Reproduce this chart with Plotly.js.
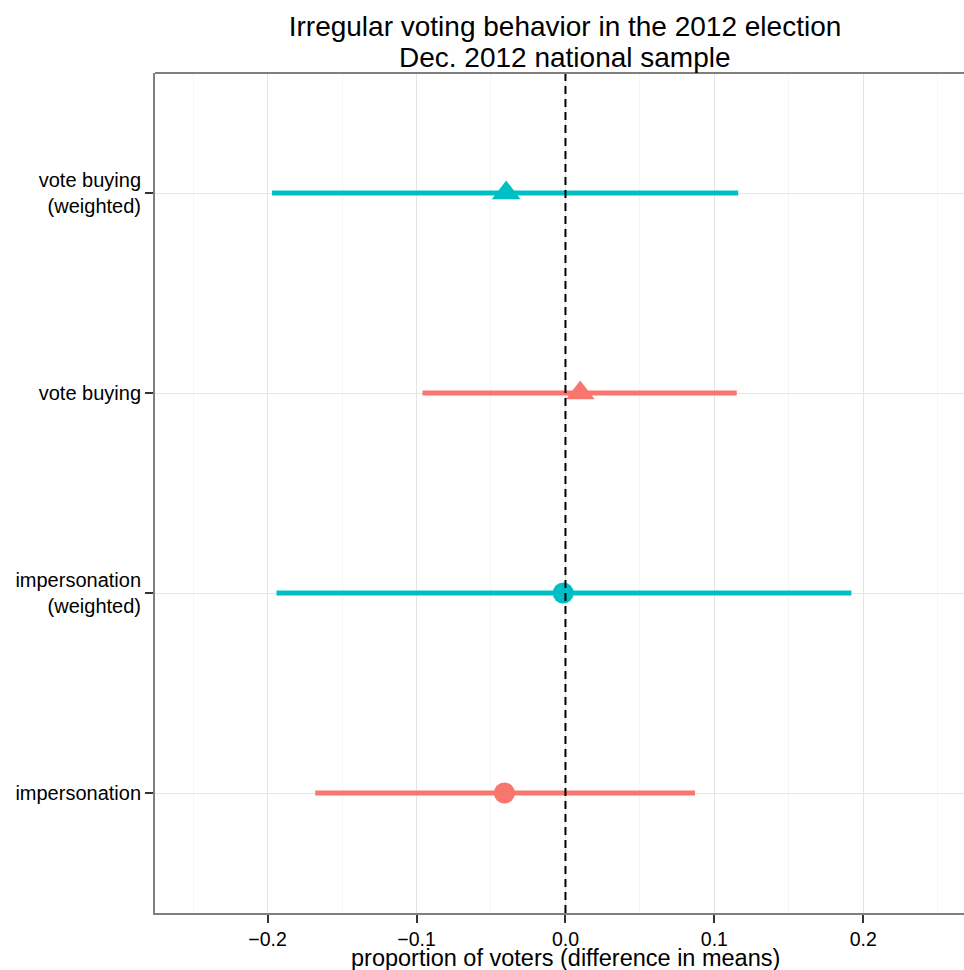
<!DOCTYPE html>
<html>
<head>
<meta charset="utf-8">
<script src="https://cdn.plot.ly/plotly-3.0.1.min.js"></script>
<style>html,body{margin:0;padding:0;background:#fff;}#chart{width:964px;height:970px;}</style>
</head>
<body>
<div id="chart"></div>
<script>
const categories = ['impersonation', 'impersonation<br>(weighted)', 'vote buying', 'vote buying<br>(weighted)'];
const estimates = [-0.041, -0.0015, 0.0099, -0.0398];
const lower = [-0.168, -0.194, -0.096, -0.197];
const upper = [0.087, 0.192, 0.115, 0.116];
const weighted = [false, true, false, true];
const symbols = ['circle', 'circle', 'triangle-up', 'triangle-up'];
const xTickVals = [-0.2, -0.1, 0.0, 0.1, 0.2];
const xTickText = ['\u22120.2', '\u22120.1', '0.0', '0.1', '0.2'];
const titleLine1 = 'Irregular voting behavior in the 2012 election';
const titleLine2 = 'Dec. 2012 national sample';
const xTitle = 'proportion of voters (difference in means)';

const COL_W = '#00BFC4', COL_U = '#F8766D';
const traces = [];
categories.forEach((c, i) => {
  const col = weighted[i] ? COL_W : COL_U;
  traces.push({x: [lower[i], upper[i]], y: [c, c], type: 'scatter', mode: 'lines',
    line: {color: col, width: 5}, hoverinfo: 'skip', showlegend: false});
});
categories.forEach((c, i) => {
  const col = weighted[i] ? COL_W : COL_U;
  traces.push({x: [estimates[i]], y: [c], type: 'scatter', mode: 'markers',
    marker: {color: col, symbol: symbols[i], size: symbols[i] === 'circle' ? 21 : 25, line: {width: 0}},
    showlegend: false});
});

const FONT = 'Liberation Sans, Arial, Helvetica, sans-serif';
const TX = (565 - 155) / 809;
const layout = {
  width: 964, height: 970,
  margin: {l: 155, r: 0, t: 73, b: 57},
  paper_bgcolor: '#fff', plot_bgcolor: '#fff',
  font: {family: FONT, color: '#000'},
  title: {text: titleLine1,
    font: {size: 28, color: '#000', family: FONT},
    xref: 'container', x: 565/964, xanchor: 'center',
    yref: 'container', y: 1 - 16/970, yanchor: 'top'},
  xaxis: {range: [-0.2756, 0.2676], tickvals: xTickVals, ticktext: xTickText,
    showgrid: true, gridcolor: '#E5E5E5', gridwidth: 1,
    minor: {dtick: 0.05, tick0: 0, showgrid: true, gridcolor: '#F5F5F5', gridwidth: 1, ticks: ''},
    zeroline: false, showline: true, linecolor: '#7F7F7F', linewidth: 2,
    ticks: 'outside', ticklen: 8, tickwidth: 2, tickcolor: '#333',
    tickfont: {size: 19.5, color: '#000'}, fixedrange: true},
  yaxis: {type: 'category', categoryarray: categories, range: [-0.6, 3.6],
    showgrid: true, gridcolor: '#E5E5E5', gridwidth: 1, zeroline: false,
    showline: true, linecolor: '#7F7F7F', linewidth: 2,
    ticks: 'outside', ticklen: 8, tickwidth: 2, tickcolor: '#333',
    tickfont: {size: 20, color: '#000'}, fixedrange: true},
  shapes: [
    {type: 'line', xref: 'x', yref: 'paper', x0: 0, x1: 0, y0: 0, y1: 1,
      line: {color: '#000', width: 2, dash: '8px,5px'}},
    {type: 'line', xref: 'paper', yref: 'paper', x0: 0, x1: 1, y0: 1, y1: 1,
      line: {color: '#7F7F7F', width: 2}}
  ],
  annotations: [
    {text: titleLine2, xref: 'paper', yref: 'paper', x: TX, y: 1,
      xanchor: 'center', yanchor: 'bottom', yshift: -2,
      showarrow: false, font: {size: 28, color: '#000', family: FONT}},
    {text: xTitle, xref: 'paper', yref: 'paper',
      x: TX, y: 0, xanchor: 'center', yanchor: 'top', yshift: -30,
      showarrow: false, font: {size: 23.5, color: '#000', family: FONT}}
  ]
};
Plotly.newPlot('chart', traces, layout, {displayModeBar: false, staticPlot: true});
</script>
</body>
</html>
